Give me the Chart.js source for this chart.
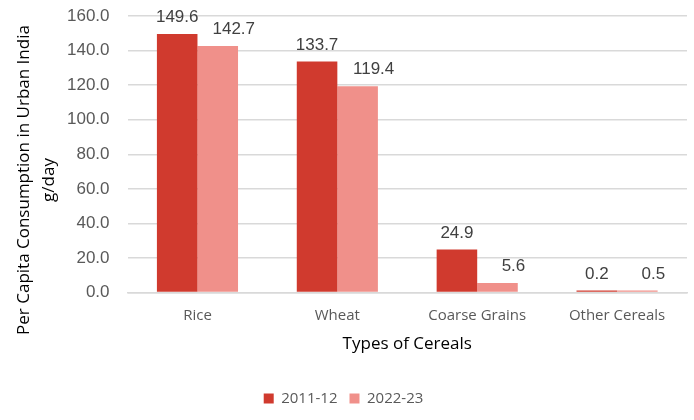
<!DOCTYPE html>
<html>
<head>
<meta charset="utf-8">
<script src="https://cdn.jsdelivr.net/npm/chart.js@4"></script>
<style>
  html, body { margin: 0; padding: 0; background: #fff; }
  #wrap { width: 694px; height: 420px; position: relative; }
</style>
</head>
<body>
<div id="wrap"><canvas id="c"></canvas></div>
<script>
// data
const categories = ['Rice', 'Wheat', 'Coarse Grains', 'Other Cereals'];
const seriesNames = ['2011-12', '2022-23'];
const values2011 = [149.6, 133.7, 24.9, 0.2];
const values2022 = [142.7, 119.4, 5.6, 0.5];
const yTicks = [0, 20, 40, 60, 80, 100, 120, 140, 160];
const yTitle = ['Per Capita Consumption in Urban India', 'g/day'];

// small plugin to write the value above each bar
const barLabels = {
  id: 'barLabels',
  afterDatasetsDraw(chart) {
    const ctx = chart.ctx;
    ctx.save();
    ctx.font = '17px "Liberation Sans", Arial, sans-serif';
    ctx.fillStyle = '#404040';
    ctx.textAlign = 'center';
    ctx.textBaseline = 'bottom';
    chart.data.datasets.forEach((ds, i) => {
      // the second series labels sit a little to the right in the original
      const dx = i === 1 ? 16 : 0;
      chart.getDatasetMeta(i).data.forEach((bar, j) => {
        ctx.fillText(ds.data[j].toFixed(1), bar.x + dx, bar.y - 8);
      });
    });
    ctx.restore();
  }
};

// y axis title, drawn by hand so it sits like the original (a bit below plot centre)
const yTitlePlugin = {
  id: 'yTitlePlugin',
  afterDraw(chart) {
    const ctx = chart.ctx;
    ctx.save();
    ctx.font = '17px "Open Sans", "Noto Sans", sans-serif';
    ctx.fillStyle = '#000';
    ctx.textAlign = 'center';
    ctx.textBaseline = 'middle';
    ctx.translate(0, 180);
    ctx.rotate(-Math.PI / 2);
    ctx.fillText(yTitle[0], 0, 24);
    ctx.fillText(yTitle[1], 0, 49);
    ctx.restore();
  }
};

new Chart(document.getElementById('c').getContext('2d'), {
  type: 'bar',
  data: {
    labels: categories,
    datasets: [
      { label: seriesNames[0], data: values2011, backgroundColor: '#d03a2e', minBarLength: 2 },
      { label: seriesNames[1], data: values2022, backgroundColor: '#f0908a', minBarLength: 2 }
    ]
  },
  options: {
    responsive: true,
    maintainAspectRatio: false,
    animation: false,
    layout: { padding: { left: 0, right: 7, top: 16, bottom: 4 } },
    datasets: { bar: { categoryPercentage: 0.58, barPercentage: 1.0 } },
    plugins: {
      legend: {
        position: 'bottom',
        labels: {
          boxWidth: 10, boxHeight: 10, padding: 12,
          color: '#595959',
          font: { family: '"Open Sans", "Noto Sans", sans-serif', size: 15 }
        }
      },
      tooltip: { enabled: false }
    },
    scales: {
      x: {
        grid: { display: false },
        border: { color: '#d9d9d9', width: 1.5 },
        ticks: {
          color: '#595959', padding: 6,
          font: { family: '"Open Sans", "Noto Sans", sans-serif', size: 15 }
        },
        title: {
          display: true, text: 'Types of Cereals', color: '#000',
          padding: { top: 3, bottom: 25 },
          font: { family: '"Open Sans", "Noto Sans", sans-serif', size: 17 }
        }
      },
      y: {
        min: 0, max: 160,
        afterBuildTicks(axis) { axis.ticks = yTicks.map(v => ({ value: v })); },
        // room for the hand-drawn title on the left
        afterFit(scale) { scale.width += 67; },
        grid: { color: '#d9d9d9', lineWidth: 1.5, drawTicks: true, tickLength: 18, tickColor: 'rgba(0,0,0,0)' },
        border: { display: false },
        ticks: {
          color: '#595959', padding: 0,
          font: { family: '"Liberation Sans", Arial, sans-serif', size: 17 },
          callback: v => Number(v).toFixed(1)
        }
      }
    }
  },
  plugins: [barLabels, yTitlePlugin]
});
</script>
</body>
</html>
